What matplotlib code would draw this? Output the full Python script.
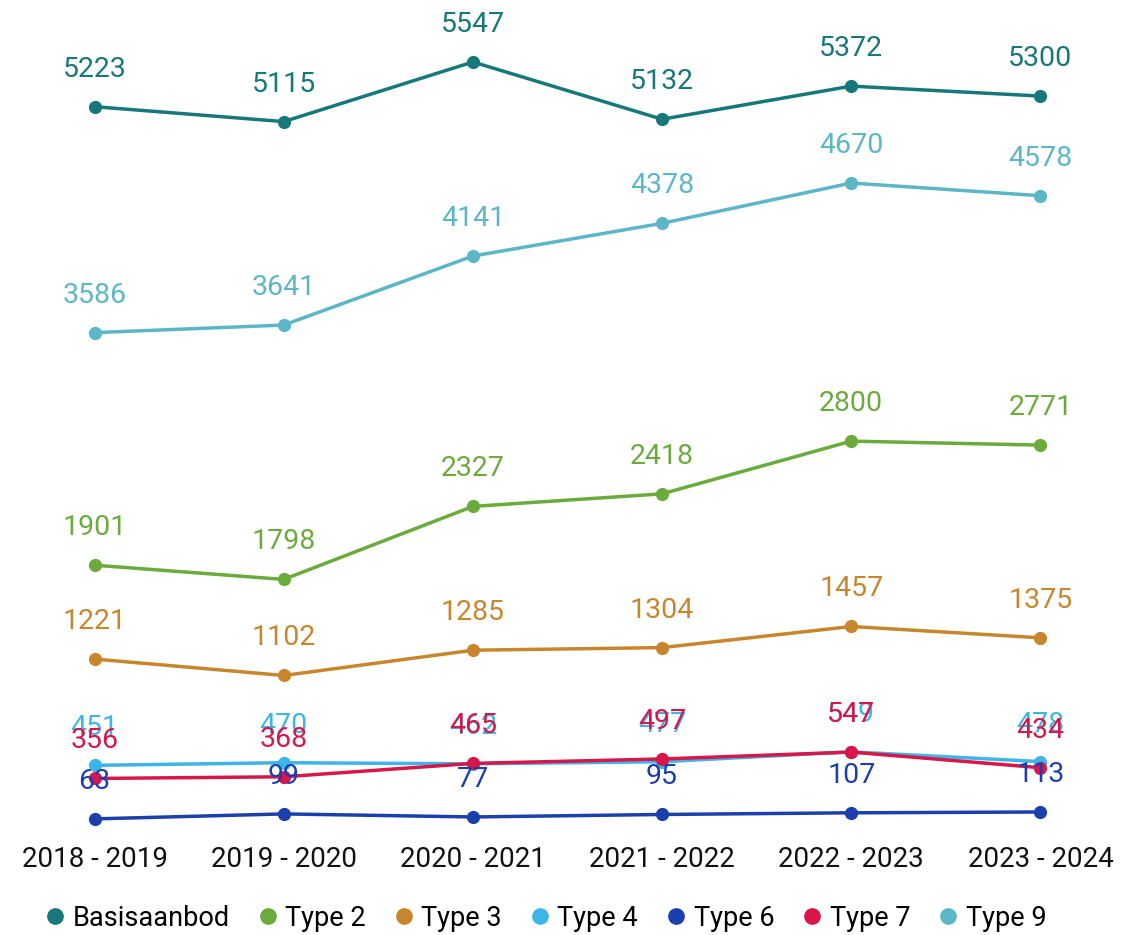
import matplotlib
matplotlib.use("Agg")
from matplotlib import pyplot as plt
from matplotlib.lines import Line2D

plt.rcParams["font.family"] = ["Roboto", "DejaVu Sans"]

# Data
years = ["2018 - 2019", "2019 - 2020", "2020 - 2021", "2021 - 2022", "2022 - 2023", "2023 - 2024"]
series_names = ["Basisaanbod", "Type 2", "Type 3", "Type 4", "Type 6", "Type 7", "Type 9"]
basisaanbod = [5223, 5115, 5547, 5132, 5372, 5300]
type_2 = [1901, 1798, 2327, 2418, 2800, 2771]
type_3 = [1221, 1102, 1285, 1304, 1457, 1375]
type_4 = [451, 470, 462, 477, 549, 478]
type_6 = [63, 99, 77, 95, 107, 113]
type_7 = [356, 368, 465, 497, 547, 434]
type_9 = [3586, 3641, 4141, 4378, 4670, 4578]

colors = ["#16787a", "#6aab3c", "#c8862c", "#3cb6e8", "#1c3fae", "#d91549", "#5bb6c8"]

all_series = [basisaanbod, type_2, type_3, type_4, type_6, type_7, type_9]
draw_order = [0, 6, 1, 2, 3, 4, 5]

fig = plt.figure(figsize=(11.35, 9.35), dpi=100)
ax = fig.add_axes([0, 0.1016, 1, 0.8984])

x = list(range(len(years)))
for idx in draw_order:
    values = all_series[idx]
    color = colors[idx]
    ax.plot(x, values, color=color, lw=2.5, marker="o", markersize=8.5, zorder=2)
    for xi, v in zip(x, values):
        ax.annotate(str(v), (xi, v), xytext=(0, 27), textcoords="offset points",
                    ha="center", va="center", fontsize=20.5, color=color, zorder=3)

ax.set_xlim(-0.5, 5.5)
ax.set_ylim(-90, 5996)
ax.set_xticks(x)
ax.set_xticklabels(years, fontsize=20, color="#111111")
ax.tick_params(axis="x", length=0, pad=4)
ax.set_yticks([])
for spine in ax.spines.values():
    spine.set_visible(False)

# Legend
handles = [Line2D([0], [0], marker="o", color="none", markerfacecolor=c, markeredgecolor=c,
                  markersize=11) for c in colors]
fig.legend(handles, series_names, loc="center", bbox_to_anchor=(0.478, 0.018), ncol=7,
           frameon=False, fontsize=19.5, handletextpad=0.05, columnspacing=0.8,
           handlelength=1.2)

plt.savefig("out.png", dpi=100)
